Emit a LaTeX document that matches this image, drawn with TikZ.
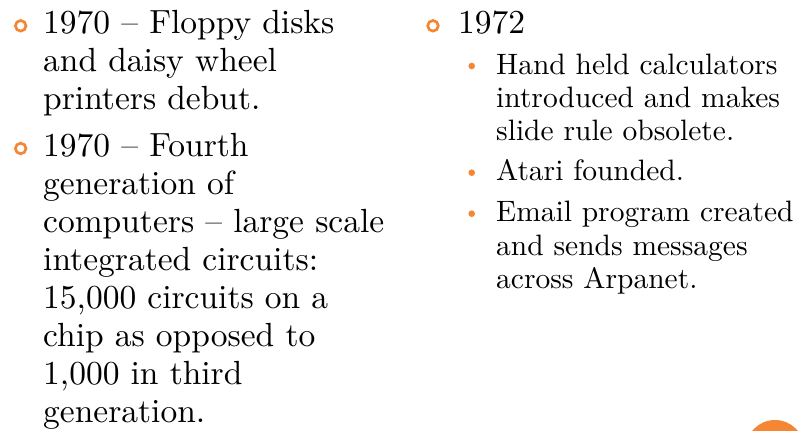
\documentclass[tikz,border=0pt]{standalone}
\usepackage{fontspec}
\setmainfont{lmroman10-regular.otf}
\usetikzlibrary{positioning}
\definecolor{bulletorange}{RGB}{244,134,52}
\newcommand{\toplines}[1]{\begin{tabular}[t]{@{}l@{}}#1\end{tabular}}

\begin{document}
\begin{tikzpicture}[x=1pt, y=-1pt,
        item/.style={anchor=base west, inner sep=0pt,
                     font=\fontsize{33.5}{38}\selectfont},
        subitem/.style={anchor=base west, inner sep=0pt,
                        font=\fontsize{29.5}{33.3}\selectfont},
        ring/.style={circle, draw=bulletorange, line width=2.7pt,
                     minimum size=10.6pt, inner sep=0pt},
        dot/.style={circle, fill=bulletorange, minimum size=6.6pt, inner sep=0pt}
      ]
        \useasboundingbox (0,0) rectangle (798,431);
        % left column
        \node[item] (fd) at (43,33.3) {\toplines{1970 -- Floppy disks\\and daisy wheel\\printers debut.}};
        \node[item] (gen) at (43,156) {\toplines{1970 -- Fourth\\generation of\\computers -- large scale\\integrated circuits:\\15,000 circuits on a\\chip as opposed to\\1,000 in third\\generation.}};
        % right column
        \node[item] (yr) at (458,33.3) {1972};
        \node[subitem] (calc) at (496,74) {\toplines{Hand held calculators\\introduced and makes\\slide rule obsolete.}};
        \node[subitem] (atari) at (496,180.7) {Atari founded.};
        \node[subitem] (mail) at (496,221.7) {\toplines{Email program created\\and sends messages\\across Arpanet.}};
        % bullets
        \node[ring] (fdb) at ([shift={(-22.3,-7.5)}]fd.base west) {};
        \node[ring] (genb) at ([shift={(-22.3,-7.5)}]gen.base west) {};
        \node[ring] (yrb) at ([shift={(-25,-7.5)}]yr.base west) {};
        \node[dot] (calcb) at ([shift={(-24.3,-8)}]calc.base west) {};
        \node[dot] (atarib) at ([shift={(-24.3,-8)}]atari.base west) {};
        \node[dot] (mailb) at ([shift={(-24.3,-8)}]mail.base west) {};
        % page marker
        \node[circle, fill=bulletorange, minimum size=59pt, inner sep=0pt] (pg) at (775,449.5) {};
      \end{tikzpicture}
\end{document}
